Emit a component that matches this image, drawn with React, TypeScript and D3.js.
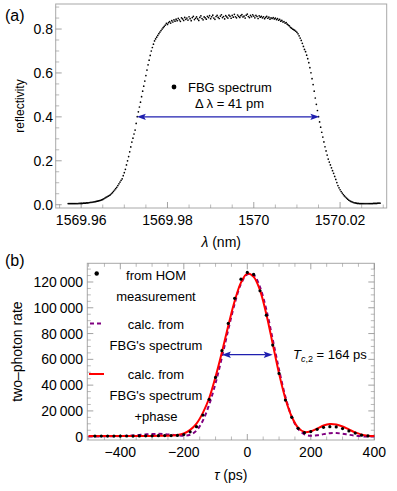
import * as d3 from 'd3';

// panel (a): FBG reflection spectrum, uniform 0.25 pm sampling
const specStart = 1569.957;
const specStep = 0.00025;
const specR = [
  0.005, 0.005, 0.005, 0.005, 0.005, 0.005, 0.005, 0.005, 0.005, 0.005,
  0.006, 0.006, 0.006, 0.006, 0.007, 0.007, 0.007, 0.008, 0.008, 0.009,
  0.010, 0.011, 0.011, 0.012, 0.013, 0.014, 0.015, 0.016, 0.017, 0.019,
  0.020, 0.022, 0.024, 0.027, 0.030, 0.033, 0.036, 0.039, 0.042, 0.045,
  0.050, 0.055, 0.061, 0.067, 0.073, 0.079, 0.087, 0.095, 0.103, 0.111,
  0.118, 0.132, 0.146, 0.161, 0.181, 0.200, 0.219, 0.241, 0.263, 0.285,
  0.303, 0.322, 0.340, 0.370, 0.401, 0.423, 0.445, 0.467, 0.492, 0.517,
  0.540, 0.563, 0.588, 0.613, 0.637, 0.658, 0.680, 0.700, 0.716, 0.731,
  0.746, 0.755, 0.763, 0.771, 0.779, 0.786, 0.793, 0.800, 0.806, 0.812,
  0.818, 0.826, 0.821, 0.829, 0.834, 0.827, 0.838, 0.832, 0.842, 0.836,
  0.845, 0.838, 0.849, 0.842, 0.835, 0.851, 0.846, 0.839, 0.853, 0.844,
  0.850, 0.841, 0.856, 0.847, 0.838, 0.852, 0.858, 0.843, 0.849, 0.855,
  0.846, 0.839, 0.853, 0.860, 0.848, 0.842, 0.855, 0.851, 0.845, 0.858,
  0.852, 0.861, 0.847, 0.856, 0.863, 0.850, 0.844, 0.857, 0.862, 0.853,
  0.848, 0.859, 0.865, 0.852, 0.857, 0.846, 0.861, 0.855, 0.850, 0.863,
  0.858, 0.849, 0.862, 0.854, 0.867, 0.856, 0.851, 0.864, 0.858, 0.853,
  0.861, 0.866, 0.855, 0.859, 0.850, 0.863, 0.868, 0.857, 0.852, 0.862,
  0.856, 0.865, 0.859, 0.851, 0.862, 0.857, 0.848, 0.860, 0.854, 0.858,
  0.851, 0.856, 0.847, 0.853, 0.858, 0.849, 0.854, 0.845, 0.851, 0.848,
  0.852, 0.846, 0.850, 0.843, 0.847, 0.840, 0.844, 0.836, 0.839, 0.832,
  0.834, 0.827, 0.829, 0.822, 0.818, 0.814, 0.808, 0.804, 0.800, 0.797,
  0.794, 0.790, 0.785, 0.778, 0.769, 0.759, 0.748, 0.735, 0.721, 0.707,
  0.697, 0.681, 0.665, 0.647, 0.624, 0.601, 0.574, 0.547, 0.517, 0.486,
  0.457, 0.429, 0.401, 0.377, 0.353, 0.330, 0.308, 0.286, 0.264, 0.245,
  0.226, 0.208, 0.194, 0.181, 0.168, 0.155, 0.143, 0.129, 0.115, 0.101,
  0.087, 0.077, 0.068, 0.060, 0.053, 0.046, 0.040, 0.035, 0.030, 0.025,
  0.021, 0.018, 0.015, 0.013, 0.011, 0.009, 0.008, 0.007, 0.006, 0.006,
  0.005, 0.005, 0.005, 0.005, 0.005, 0.005, 0.005, 0.005, 0.005, 0.005,
  0.005, 0.005, 0.005, 0.006, 0.006, 0.006, 0.006, 0.007, 0.007, 0.007,
];
const fwhmLeft = 1569.9729;
const fwhmRight = 1570.0152;
const fwhmLevel = 0.4;

const aXTicks = [1569.96, 1569.98, 1570, 1570.02];
const aXTickLabels = ['1569.96', '1569.98', '1570', '1570.02'];
const aYTicks = [0, 0.2, 0.4, 0.6, 0.8];
const aYTickLabels = ['0.0', '0.2', '0.4', '0.6', '0.8'];

// panel (b): HOM dip
const homTau = [
  -480, -460, -440, -420, -400, -380, -360, -340, -320, -300, -280, -260, -240, -220,
  -200, -180, -160, -140, -120, -100, -80, -60, -40, -20, 0, 20, 40, 60, 80, 100,
  120, 140, 160, 180, 200, 220, 240, 260, 280, 300, 320, 340, 360, 380,
];
const homRate = [
  500, 450, 500, 450, 500, 550, 500, 600, 650, 700, 800, 850, 900, 1000,
  1700, 3800, 7800, 16800, 29000, 46000, 66700, 87900, 107300, 122200, 127400, 125900, 113200, 94300, 71100, 49100,
  28400, 15000, 6500, 3100, 4000, 5700, 7300, 7800, 7600, 6300, 4500, 2800, 1200, 600,
];
const calcTau = [
  -500, -480, -460, -440, -420, -400, -380, -360, -340, -320, -300, -280, -260, -240, -220,
  -200, -180, -160, -140, -120, -100, -80, -60, -40, -20, 0, 20, 40, 60, 80, 100,
  120, 140, 160, 180, 200, 220, 240, 260, 280, 300, 320, 340, 360, 380, 400,
];
const calcFbg = [
  200, 200, 250, 300, 400, 500, 700, 1000, 1400, 1800, 2100, 2200, 2000, 1600, 1100,
  800, 1500, 4800, 12500, 25000, 41500, 61500, 83000, 103000, 118500, 126000, 125500, 116000, 98500, 75500, 52000,
  31000, 15500, 6000, 1800, 700, 1100, 2000, 2700, 2800, 2300, 1500, 800, 300, 100, 100,
];
const calcFbgPhase = [
  500, 500, 500, 500, 500, 500, 500, 550, 550, 600, 600, 650, 700, 900, 1300,
  2500, 5300, 10200, 18500, 30000, 46500, 65500, 86000, 105000, 119500, 126500, 124000, 113500, 95000, 72000, 49000,
  29500, 15500, 7000, 3600, 4200, 6300, 8700, 9900, 9500, 7900, 5600, 3300, 1600, 800, 500,
];
const tcLeft = -80;
const tcRight = 80;
const tcLevel = 63600;

const bXTicks = [-400, -200, 0, 200, 400];
const bYTicks = [0, 20000, 40000, 60000, 80000, 100000, 120000];

const FONT = '"Liberation Sans", Arial, Helvetica, sans-serif';
const FRAME = '#a8a8a8';
const TICK = '#8c8c8c';
const BLUE = '#1f1faf';
const RED = '#ff0000';
const PURPLE = '#800080';

function fmtThousands(v: number) {
  if (v < 1000) return String(v);
  const s = String(v);
  return s.slice(0, s.length - 3) + '\u2009' + s.slice(s.length - 3);
}

function fmtMinus(v: number) {
  return v < 0 ? '\u2212' + Math.abs(v) : String(v);
}

function arrowHead(x: number, y: number, dir: number) {
  // tip at (x,y), pointing in direction dir (+1 right, -1 left)
  const L = 9, hw = 3.2;
  return `M${x},${y}L${x - dir * L},${y - hw}L${x - dir * L * 0.8},${y}L${x - dir * L},${y + hw}Z`;
}

export default function App() {
  const W = 397, H = 491;

  // ---- panel (a)
  const ax = d3.scaleLinear().domain([1569.9541, 1570.0308]).range([55.7, 386.7]);
  const ay = d3.scaleLinear().domain([-0.015, 0.914]).range([208, 4]);
  const spec = specR.map((r, i) => ({ l: specStart + i * specStep, r }));
  const aMinorX = d3.range(1569.955, 1570.031, 0.005).filter(v => !aXTicks.some(t => Math.abs(t - v) < 1e-7));
  const aMinorY = d3.range(0, 0.91, 0.05).filter(v => !aYTicks.some(t => Math.abs(t - v) < 1e-7));

  // ---- panel (b)
  const bx = d3.scaleLinear().domain([-504, 400]).range([87.3, 374.3]);
  const by = d3.scaleLinear().domain([-2560, 134500]).range([440, 263.3]);
  const line = d3.line<[number, number]>().x(d => bx(d[0])).y(d => by(d[1])).curve(d3.curveCatmullRom.alpha(0.5));
  const fbgPath = line(calcTau.map((t, i) => [t, calcFbg[i]]) as [number, number][]) || '';
  const phasePath = line(calcTau.map((t, i) => [t, calcFbgPhase[i]]) as [number, number][]) || '';
  const bMinorX = d3.range(-500, 401, 50).filter(v => !bXTicks.includes(v));
  const bMinorY = d3.range(0, 134000, 5000).filter(v => !bYTicks.includes(v));

  const [aX0, aX1] = ax.range();
  const [aY0, aY1] = ay.range();
  const [bX0, bX1] = bx.range();
  const [bY0, bY1] = by.range();

  const aArrowY = ay(fwhmLevel);
  const bArrowY = by(tcLevel);

  return (
    <svg width={W} height={H} style={{ position: 'absolute', left: 0, top: 0, background: '#fff' }} fontFamily={FONT}>
      {/* ================= (a) ================= */}
      <text x={5} y={21} fontSize={16}>(a)</text>
      <rect x={aX0} y={aY1} width={aX1 - aX0} height={aY0 - aY1} fill="none" stroke={FRAME} strokeWidth={1} />
      {aXTicks.map(t => (
        <line key={'axt' + t} x1={ax(t)} x2={ax(t)} y1={aY0} y2={aY0 - 6} stroke={TICK} strokeWidth={0.8} />
      ))}
      {aMinorX.map(t => (
        <line key={'axm' + t} x1={ax(t)} x2={ax(t)} y1={aY0} y2={aY0 - 3.5} stroke={TICK} strokeWidth={0.6} />
      ))}
      {aYTicks.map(t => (
        <line key={'ayt' + t} x1={aX0} x2={aX0 + 6} y1={ay(t)} y2={ay(t)} stroke={TICK} strokeWidth={0.8} />
      ))}
      {aMinorY.map(t => (
        <line key={'aym' + t} x1={aX0} x2={aX0 + 3.5} y1={ay(t)} y2={ay(t)} stroke={TICK} strokeWidth={0.6} />
      ))}
      {aXTicks.map((t, i) => (
        <text key={'axl' + t} x={ax(t)} y={225} fontSize={14} textAnchor="middle">{aXTickLabels[i]}</text>
      ))}
      {aYTicks.map((t, i) => (
        <text key={'ayl' + t} x={53} y={ay(t) + 5} fontSize={14} textAnchor="end">{aYTickLabels[i]}</text>
      ))}
      <text x={(aX0 + aX1) / 2} y={247} fontSize={14} textAnchor="middle">
        <tspan fontStyle="italic">λ</tspan> (nm)
      </text>
      <text transform={`translate(24,${(aY0 + aY1) / 2}) rotate(-90)`} fontSize={12} textAnchor="middle">reflectivity</text>

      {spec.map((d, i) => (
        <circle key={'s' + i} cx={ax(d.l)} cy={ay(d.r)} r={0.85} fill="#000" />
      ))}

      <line x1={ax(fwhmLeft) + 7} x2={ax(fwhmRight) - 7} y1={aArrowY} y2={aArrowY} stroke={BLUE} strokeWidth={1.3} />
      <path d={arrowHead(ax(fwhmLeft), aArrowY, -1)} fill={BLUE} />
      <path d={arrowHead(ax(fwhmRight), aArrowY, 1)} fill={BLUE} />

      <circle cx={174} cy={87} r={2.4} fill="#000" />
      <text x={188} y={91.5} fontSize={13}>FBG spectrum</text>
      <text x={195} y={107.5} fontSize={13}>Δ λ = 41 pm</text>

      {/* ================= (b) ================= */}
      <text x={5} y={266} fontSize={16}>(b)</text>
      <rect x={bX0} y={bY1} width={bX1 - bX0} height={bY0 - bY1} fill="none" stroke={FRAME} strokeWidth={1} />
      {bXTicks.map(t => (
        <g key={'bxt' + t}>
          <line x1={bx(t)} x2={bx(t)} y1={bY0} y2={bY0 - 6} stroke={TICK} strokeWidth={0.8} />
          <line x1={bx(t)} x2={bx(t)} y1={bY1} y2={bY1 + 6} stroke={TICK} strokeWidth={0.8} />
        </g>
      ))}
      {bMinorX.map(t => (
        <g key={'bxm' + t}>
          <line x1={bx(t)} x2={bx(t)} y1={bY0} y2={bY0 - 3.5} stroke={TICK} strokeWidth={0.6} />
          <line x1={bx(t)} x2={bx(t)} y1={bY1} y2={bY1 + 3.5} stroke={TICK} strokeWidth={0.6} />
        </g>
      ))}
      {bYTicks.map(t => (
        <g key={'byt' + t}>
          <line x1={bX0} x2={bX0 + 6} y1={by(t)} y2={by(t)} stroke={TICK} strokeWidth={0.8} />
          <line x1={bX1} x2={bX1 - 6} y1={by(t)} y2={by(t)} stroke={TICK} strokeWidth={0.8} />
        </g>
      ))}
      {bMinorY.map(t => (
        <g key={'bym' + t}>
          <line x1={bX0} x2={bX0 + 3.5} y1={by(t)} y2={by(t)} stroke={TICK} strokeWidth={0.6} />
          <line x1={bX1} x2={bX1 - 3.5} y1={by(t)} y2={by(t)} stroke={TICK} strokeWidth={0.6} />
        </g>
      ))}
      {bXTicks.map(t => (
        <text key={'bxl' + t} x={bx(t)} y={457} fontSize={14} textAnchor="middle">{fmtMinus(t)}</text>
      ))}
      {bYTicks.map(t => (
        <text key={'byl' + t} x={83} y={by(t) + 5} fontSize={14} textAnchor="end">{fmtThousands(t)}</text>
      ))}
      <text x={(bX0 + bX1) / 2} y={480} fontSize={14} textAnchor="middle">
        <tspan fontStyle="italic">τ</tspan> (ps)
      </text>
      <text transform={`translate(22,${(bY0 + bY1) / 2}) rotate(-90)`} fontSize={14} textAnchor="middle">two–photon rate</text>

      <path d={fbgPath} fill="none" stroke={PURPLE} strokeWidth={2} strokeDasharray="4,3" />
      <path d={phasePath} fill="none" stroke={RED} strokeWidth={2} />
      {homTau.map((t, i) => (
        <circle key={'h' + t} cx={bx(t)} cy={by(homRate[i])} r={1.6} fill="#000" />
      ))}

      <line x1={bx(tcLeft) + 7} x2={bx(tcRight) - 7} y1={bArrowY} y2={bArrowY} stroke={BLUE} strokeWidth={1.3} />
      <path d={arrowHead(bx(tcLeft), bArrowY, -1)} fill={BLUE} />
      <path d={arrowHead(bx(tcRight), bArrowY, 1)} fill={BLUE} />
      <text x={293} y={359} fontSize={13}>
        <tspan fontStyle="italic">T</tspan>
        <tspan fontSize={9} dy={3} fontStyle="italic">c</tspan>
        <tspan fontSize={9}>,2</tspan>
        <tspan dy={-3}> = 164 ps</tspan>
      </text>

      {/* legend (b) */}
      <circle cx={96.7} cy={273.5} r={2.2} fill="#000" />
      <text x={156} y={279.5} fontSize={13} textAnchor="middle">from HOM</text>
      <text x={156} y={300.5} fontSize={13} textAnchor="middle">measurement</text>
      <line x1={90} x2={102} y1={323.5} y2={323.5} stroke={PURPLE} strokeWidth={2} strokeDasharray="4,3" />
      <text x={156} y={328.5} fontSize={13} textAnchor="middle">calc. from</text>
      <text x={156} y={349.5} fontSize={13} textAnchor="middle">FBG's spectrum</text>
      <line x1={89} x2={104} y1={374} y2={374} stroke={RED} strokeWidth={2} />
      <text x={156} y={378.5} fontSize={13} textAnchor="middle">calc. from</text>
      <text x={156} y={399.5} fontSize={13} textAnchor="middle">FBG's spectrum</text>
      <text x={156} y={420.5} fontSize={13} textAnchor="middle">+phase</text>
    </svg>
  );
}
